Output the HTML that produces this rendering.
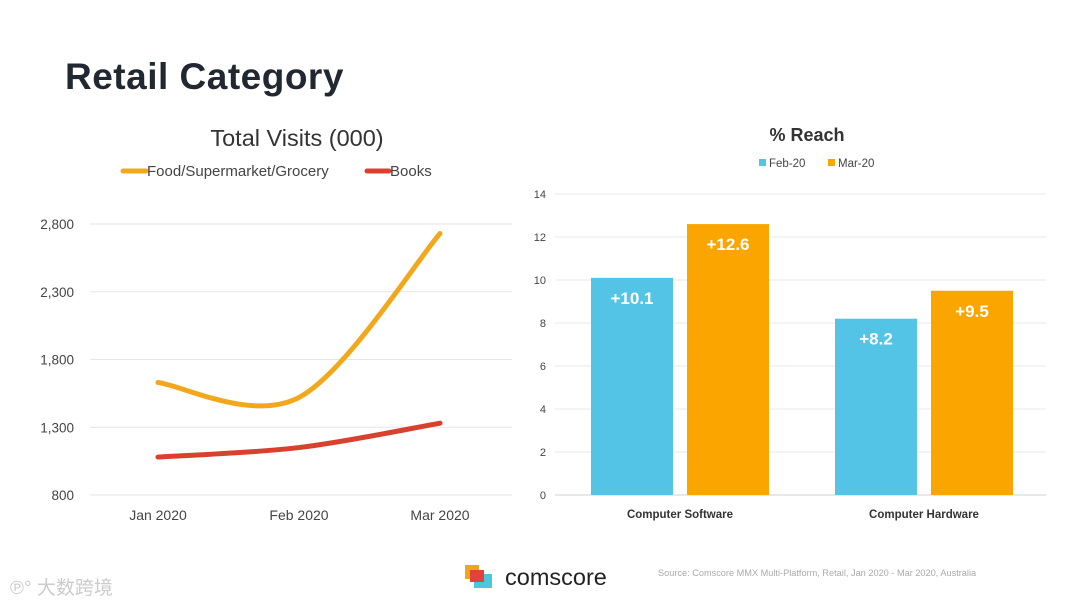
<!DOCTYPE html>
<html><head><meta charset="utf-8"><style>
body{margin:0;width:1080px;height:607px;background:#fff;overflow:hidden;font-family:"Liberation Sans",sans-serif;}
svg{position:absolute;left:0;top:0}
</style></head><body>
<svg width="1080" height="607">
<text x="65" y="89" font-size="37" font-weight="bold" letter-spacing="0.5" fill="#222831">Retail Category</text>
<g id="line"></g>
<g id="bar"></g>
<g>
<rect x="465" y="565" width="14" height="14" fill="#f7a21b"/>
<rect x="474" y="574" width="18" height="14" fill="#4fc3e0"/>
<rect x="470" y="570" width="14" height="12" fill="#e3413c"/>
<text x="505" y="585" font-size="23.5" fill="#222">comscore</text>
</g>
<text x="658" y="576" font-size="9.2" fill="#aaa">Source: Comscore MMX Multi-Platform, Retail, Jan 2020 - Mar 2020, Australia</text>
<text x="10" y="594" font-size="19" fill="#ccc" font-family="'Liberation Sans','Noto Sans CJK SC',sans-serif">℗° 大数跨境</text>
</svg>
<script>
const NS="http://www.w3.org/2000/svg";
function mk(p,t,a,txt){const e=document.createElementNS(NS,t);for(const k in a)e.setAttribute(k,a[k]);if(txt!=null)e.textContent=txt;p.appendChild(e);return e;}
// line chart data
const months=["Jan 2020","Feb 2020","Mar 2020"];
const foodVals=[1630,1520,2730];
const booksVals=[1080,1150,1330];
const lineTicks=[800,1300,1800,2300,2800];
// bar chart data
const barCats=["Computer Software","Computer Hardware"];
const febVals=[10.1,8.2];
const marVals=[12.6,9.5];
const barTicks=[0,2,4,6,8,10,12,14];

const L=document.getElementById('line');
const ly=v=>495-(v-800)*271/2000, lx=i=>158+i*141;
mk(L,'text',{x:297,y:146,'font-size':23.5,'text-anchor':'middle',fill:'#333'},'Total Visits (000)');
lineTicks.forEach(t=>{
 const g=mk(L,'line',{x1:90,x2:512,y1:ly(t),y2:ly(t),stroke:'#e6e6e6'});
 
 const tx=mk(L,'text',{x:74,y:ly(t)+5,'font-size':13.5,'text-anchor':'end',fill:'#444'},t.toLocaleString('en-US'));
 
});
months.forEach((m,i)=>{const t=mk(L,'text',{x:lx(i),y:520,'font-size':14,'text-anchor':'middle',fill:'#444'},m);
 });
function smooth(vals){const p=vals.map((v,i)=>[lx(i),ly(v)]);let d=`M${p[0][0]},${p[0][1]}`;
 for(let i=0;i<p.length-1;i++){const p0=p[i-1]||p[i],p1=p[i],p2=p[i+1],p3=p[i+2]||p2;
  const c1=[p1[0]+(p2[0]-p0[0])/6,p1[1]+(p2[1]-p0[1])/6],c2=[p2[0]-(p3[0]-p1[0])/6,p2[1]-(p3[1]-p1[1])/6];
  d+=` C${c1} ${c2} ${p2}`;}return d;}
const fl=mk(L,'path',{d:smooth(foodVals),fill:'none',stroke:'#f2a81d','stroke-width':5,'stroke-linecap':'round'});

const bl=mk(L,'path',{d:smooth(booksVals),fill:'none',stroke:'#d9412f','stroke-width':5,'stroke-linecap':'round'});

const lg1=mk(L,'line',{x1:123,x2:146,y1:171,y2:171,stroke:'#f2a81d','stroke-width':5,'stroke-linecap':'round'});

mk(L,'text',{x:147,y:176,'font-size':15,fill:'#444'},'Food/Supermarket/Grocery');
const lg2=mk(L,'line',{x1:367,x2:389,y1:171,y2:171,stroke:'#d9412f','stroke-width':5,'stroke-linecap':'round'});

mk(L,'text',{x:390,y:176,'font-size':15,fill:'#444'},'Books');

const B=document.getElementById('bar');
const by=v=>495-v*301/14, gc=i=>680+i*244;
mk(B,'text',{x:807,y:141,'font-size':18,'font-weight':'bold','text-anchor':'middle',fill:'#333'},'% Reach');
mk(B,'rect',{x:759,y:159,width:7,height:7,fill:'#53c4e6'});
mk(B,'text',{x:769,y:167,'font-size':11.5,fill:'#444'},'Feb-20');
mk(B,'rect',{x:828,y:159,width:7,height:7,fill:'#fba500'});
mk(B,'text',{x:838,y:167,'font-size':11.5,fill:'#444'},'Mar-20');
barTicks.forEach(t=>{
 const g=mk(B,'line',{x1:555,x2:1046,y1:by(t),y2:by(t),stroke:t?'#e8e8e8':'#d0d0d0'});
 
 const tx=mk(B,'text',{x:546,y:by(t)+4,'font-size':11,'text-anchor':'end',fill:'#444'},t);
 
});
barCats.forEach((c,i)=>{
 const t=mk(B,'text',{x:gc(i),y:518,'font-size':11.5,'font-weight':'bold','text-anchor':'middle',fill:'#333'},c);
 
 [[febVals,'#53c4e6',-89],[marVals,'#fba500',7]].forEach(([arr,col,off])=>{
  const v=arr[i];
  const r=mk(B,'rect',{x:gc(i)+off,y:by(v),width:82,height:495-by(v),fill:col});
  
  const l=mk(B,'text',{x:gc(i)+off+41,y:by(v)+26,'font-size':17,'font-weight':'bold','text-anchor':'middle',fill:'#fff'},'+'+v);
  
 });
});
</script>
</body></html>
